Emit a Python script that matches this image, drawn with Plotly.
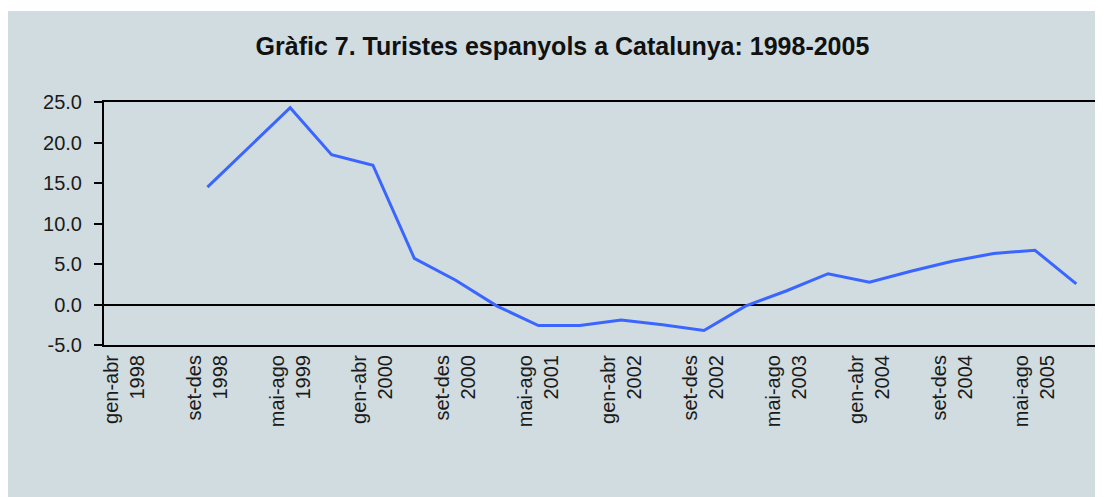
import plotly.graph_objects as go

periods = ["gen-abr", "mai-ago", "set-des"]
years = ["1998", "1999", "2000", "2001", "2002", "2003", "2004", "2005"]
categories = [p + "<br>" + y for y in years for p in periods]

# variacio (%) per quadrimestre
turistes = [None, None, 14.5, 19.4, 24.3, 18.5, 17.2, 5.7, 3.0, -0.2,
            -2.6, -2.6, -1.9, -2.5, -3.2, -0.2, 1.7, 3.8, 2.75, 4.1,
            5.35, 6.3, 6.7, 2.55]

# only every second period gets a label
shown = categories[0::2]

y_ticks = [-5, 0, 5, 10, 15, 20, 25]
y_labels = ["%.1f" % v for v in y_ticks]  # plain hyphen, not unicode minus

bg = "#d0dce0"

fig = go.Figure()
fig.add_trace(go.Scatter(
    x=categories,
    y=turistes,
    mode="lines",
    line=dict(color="#3a66ff", width=3),
    connectgaps=False,
    showlegend=False
))

fig.update_layout(
    width=1103, height=497,
    margin=dict(l=96, r=14, t=94, b=160),
    paper_bgcolor="white",
    plot_bgcolor="rgba(0,0,0,0)",
    font=dict(family="Liberation Sans, Arial, sans-serif", color="#1a1a1a"),
    title=dict(
        text="<b>Gràfic 7. Turistes espanyols a Catalunya: 1998-2005</b>",
        x=0.5027, xanchor="center", xref="container",
        y=0.9235, yanchor="middle",
        font=dict(family="Liberation Sans, Arial", size=25, color="#111111")
    ),
    shapes=[dict(type="rect", xref="paper", yref="paper",
                 x0=-0.0967, x1=1.05, y0=-0.8, y1=1.3745,
                 fillcolor=bg, line=dict(width=0), layer="below")],
)

fig.update_xaxes(
    type="category",
    categoryorder="array", categoryarray=categories,
    range=[-0.5, 23.5],
    tickmode="array", tickvals=shown, ticktext=shown,
    tickangle=-90,
    tickfont=dict(size=20),
    ticks="", showgrid=False,
    showline=True, linecolor="black", linewidth=2, mirror=True,
)
fig.update_yaxes(
    range=[-5, 25],
    tickmode="array", tickvals=y_ticks, ticktext=y_labels,
    tickfont=dict(size=20),
    ticks="outside", ticklen=8, tickcolor="black", tickwidth=1.5,
    ticklabelstandoff=8,
    showgrid=False,
    zeroline=True, zerolinecolor="black", zerolinewidth=1.5,
    showline=True, linecolor="black", linewidth=2, mirror=True,
)

fig.write_html("out.html")
